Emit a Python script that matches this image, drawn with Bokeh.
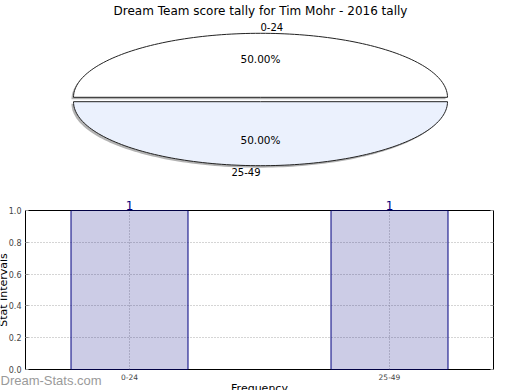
import math
from bokeh.plotting import figure
from bokeh.layouts import column, row
from bokeh.models import Range1d, FixedTicker, Label, ColumnDataSource, LinearAxis
from bokeh.embed import file_html
from bokeh.resources import INLINE

# ---- data ----
title_text = "Dream Team score tally for Tim Mohr - 2016 tally"
categories = ["0-24", "25-49"]
counts = [1, 1]
pie_colors = ["#ffffff", "#ebf1fd"]
y_ticks = [0.0, 0.2, 0.4, 0.6, 0.8, 1.0]
x_label = "Frequency"
y_label = "Stat Intervals"
watermark = "Dream-Stats.com"

FONT = "DejaVu Sans"
W, H = 520, 390

# ---- host figure in pixel space (pie + outer texts) ----
host = figure(width=W, height=H, x_range=Range1d(0, W), y_range=Range1d(H, 0),
              x_axis_location=None, y_axis_location=None,
              output_backend="svg", toolbar_location=None,
              min_border=0, min_border_left=0, min_border_right=0,
              min_border_top=0, min_border_bottom=0)
host.grid.visible = False
host.outline_line_color = None
host.background_fill_color = "white"
host.border_fill_color = "white"

cx, cy, rx, ry, explode = 260.0, 99.0, 187.0, 64.0, 2.2
total = float(sum(counts))
start = 0.0
slices = []
for lab, c, col in zip(categories, counts, pie_colors):
    frac = c / total
    a0, a1 = start, start + frac * 2 * math.pi
    mid = (a0 + a1) / 2
    ox, oy = cx + explode * math.cos(mid), cy - explode * math.sin(mid)
    n = 120
    xs = [ox] + [ox + rx * math.cos(a0 + (a1 - a0) * i / n) for i in range(n + 1)]
    ys = [oy] + [oy - ry * math.sin(a0 + (a1 - a0) * i / n) for i in range(n + 1)]
    slices.append((lab, frac, col, xs, ys, mid, ox, oy))
    start = a1

for lab, frac, col, xs, ys, mid, ox, oy in slices:
    host.patch([x - 2 for x in xs], [y + 2 for y in ys], fill_color="#808080",
               fill_alpha=0.6, line_color=None)
for lab, frac, col, xs, ys, mid, ox, oy in slices:
    host.patch(xs, ys, fill_color=col, line_color="#222222", line_width=1)
    lx = ox + 1.1 * rx * math.cos(mid)
    ly = oy - 1.1 * ry * math.sin(mid)
    align = "left" if math.cos(mid) > 0 else "right"
    host.add_layout(Label(x=lx, y=ly, text=lab, text_align=align, text_baseline="middle",
                          text_font=FONT, text_font_size="10px", text_color="black"))
    px = ox + 0.6 * rx * math.cos(mid)
    py = oy - 0.6 * ry * math.sin(mid)
    host.add_layout(Label(x=px, y=py, text="%.2f%%" % (frac * 100), text_align="center",
                          text_baseline="middle", text_font=FONT, text_font_size="10.5px",
                          text_color="black"))

host.add_layout(Label(x=W / 2, y=10, text=title_text, text_align="center",
                      text_baseline="middle", text_font=FONT, text_font_size="12px",
                      text_color="black"))

# outer texts of the bar chart
host.add_layout(Label(x=2.7, y=289.5, angle=math.pi / 2, text=y_label,
                      text_align="center", text_baseline="middle", text_font=FONT,
                      text_font_size="11px", text_color="black"))
host.add_layout(Label(x=259, y=387.5, text=x_label, text_align="center",
                      text_baseline="middle", text_font=FONT,
                      text_font_size="11px", text_color="black"))
host.add_layout(Label(x=0, y=380, text=watermark, text_align="left",
                      text_baseline="middle", text_font="Liberation Sans",
                      text_font_size="13px", text_color="#9a9a9a"))

# ---- bar chart (overlaid on the lower half) ----
H2 = 195
xpos = list(range(len(categories)))
bar = figure(width=W, height=H2, x_range=Range1d(-0.4, 1.4), y_range=Range1d(0, 1),
             output_backend="svg", toolbar_location=None,
             min_border_left=25, min_border_right=27, min_border_top=15, min_border_bottom=21)
bar.background_fill_color = "white"
bar.border_fill_alpha = 0
bar.outline_line_color = "black"
bar.outline_line_width = 1

src = ColumnDataSource(dict(x=xpos, top=counts))
bar.vbar(x="x", top="top", bottom=0, width=0.45, source=src, fill_color="navy",
         fill_alpha=0.2, line_color="navy", line_width=1)

bar.xaxis.ticker = FixedTicker(ticks=xpos)
bar.xaxis.major_label_overrides = {i: c for i, c in enumerate(categories)}
bar.xaxis.major_tick_in = 0
bar.xaxis.major_tick_out = 0
bar.xaxis.minor_tick_line_color = None
bar.xaxis.axis_line_color = None
bar.xaxis.major_label_text_font = FONT
bar.xaxis.major_label_text_font_size = "7.5px"
bar.xaxis.major_label_standoff = 4

bar.yaxis.ticker = FixedTicker(ticks=y_ticks)
bar.yaxis.major_label_overrides = {t: "%.1f" % t for t in y_ticks}
bar.yaxis.major_tick_in = 3
bar.yaxis.major_tick_out = 0
bar.yaxis.major_tick_line_color = "#999999"
bar.yaxis.minor_tick_line_color = None
bar.yaxis.axis_line_color = None
bar.yaxis.major_label_text_font = FONT
bar.yaxis.major_label_text_font_size = "8px"
bar.yaxis.major_label_standoff = 4

ra = LinearAxis(ticker=FixedTicker(ticks=y_ticks), major_tick_in=3, major_tick_out=0,
                major_tick_line_color="#999999", minor_tick_line_color=None,
                axis_line_color=None, major_label_text_color=None,
                major_label_text_font_size="1px")
bar.add_layout(ra, "right")

# value labels above the bars, from the counts
ta = LinearAxis(ticker=FixedTicker(ticks=xpos),
                major_label_overrides={x: str(c) for x, c in zip(xpos, counts)},
                major_tick_in=0, major_tick_out=0, minor_tick_line_color=None,
                axis_line_color=None, major_label_standoff=1,
                major_label_text_font=FONT, major_label_text_font_size="12px",
                major_label_text_color="navy")
bar.add_layout(ta, "above")

bar.xgrid.ticker = FixedTicker(ticks=xpos)
bar.ygrid.ticker = FixedTicker(ticks=y_ticks)
bar.grid.grid_line_color = "#aaaaaa"
bar.grid.grid_line_dash = "1 2"
bar.grid.grid_line_width = 1

layout = column(row(host), row(bar, margin=(-H2, 0, 0, 0)), spacing=0)
open("out.html", "w").write(file_html(layout, INLINE))
